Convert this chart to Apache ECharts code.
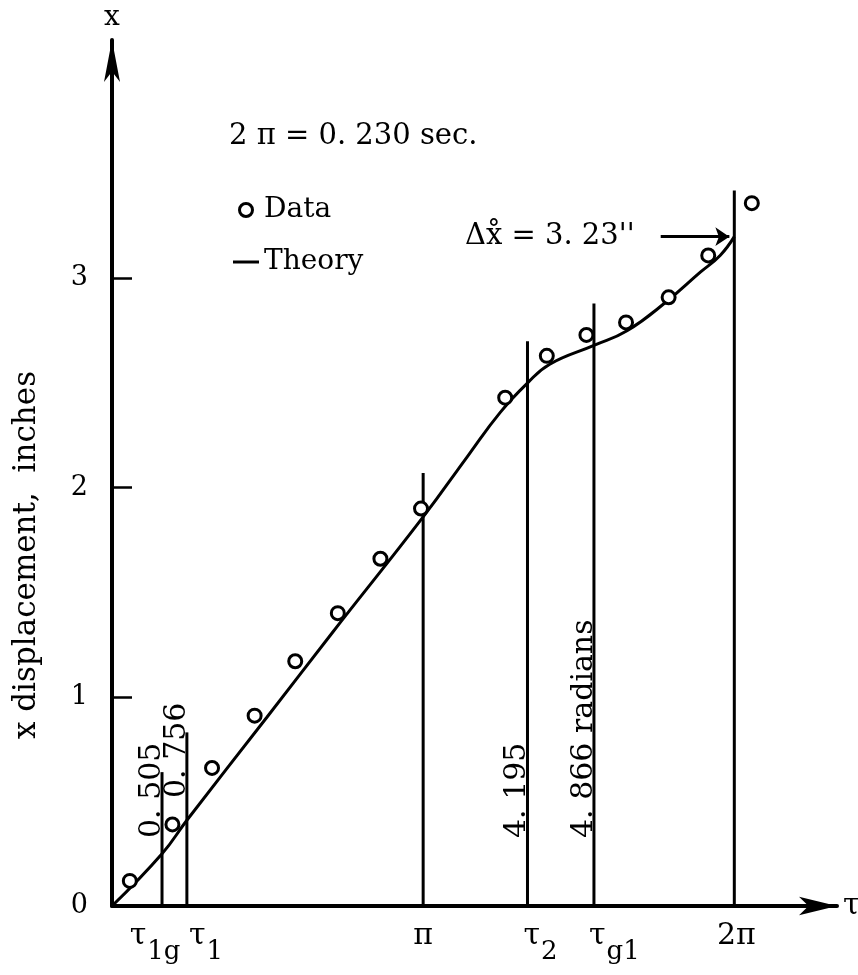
<!DOCTYPE html>
<html>
<head>
<meta charset="utf-8">
<script src="https://cdn.jsdelivr.net/npm/echarts@6/dist/echarts.min.js"></script>
<style>
  html, body { margin: 0; padding: 0; background: #fff; }
  #main { width: 858px; height: 975px; }
</style>
</head>
<body>
<div id="main"></div>
<script>
// measured points (tau in radians, x in inches)
const dataTau = [0.18, 0.61, 1.01, 1.44, 1.85, 2.28, 2.71, 3.12, 3.97, 4.39, 4.79, 5.19, 5.62, 6.02, 6.46];
const dataX   = [0.12, 0.39, 0.66, 0.91, 1.17, 1.40, 1.66, 1.90, 2.43, 2.63, 2.73, 2.79, 2.91, 3.11, 3.36];

// theory curve
const theoryTau = [0, 0.505, 0.756, 1.56, 2.23, Math.PI, 3.59, 3.92, 4.195, 4.42, 4.866, 5.2, 5.6, 5.94, 6.14, 2 * Math.PI];
const theoryX   = [0, 0.25, 0.41, 0.90, 1.31, 1.86, 2.15, 2.36, 2.50, 2.59, 2.68, 2.75, 2.89, 3.03, 3.11, 3.20];

// vertical reference lines
const lineTau   = [0.505, 0.756, Math.PI, 4.195, 4.866, 2 * Math.PI];
const lineTop   = [0.64, 0.83, 2.07, 2.70, 2.88, 3.42];
const lineLabel = ['0. 505', '0. 756', '', '4. 195', '4. 866 radians', ''];

// labels under the axis at each line (rich text)
const tickLabels = ['{m|τ}{s|1g}', '{m|τ}{s|1}', '{m|π}', '{m|τ}{s|2}', '{m|τ}{s|g1}', '{m|2π}'];

const yTickValues = [0, 1, 2, 3];

const deltaLabel = 'Δx\u030A = 3. 23\'\'';
const periodLabel = '2 π = 0. 230 sec.';

// label placement (style only, pixels)
const labelLift = [68, 108, 0, 68, 68, 0];
const tickAlign = ['center', 'left', 'center', 'left', 'left', 'center'];
const tickShift = [-7, 2, 0, -4, -5, 2];

const serif = 'DejaVu Serif';
const ink = '#000';

const chart = echarts.init(document.getElementById('main'));

const option = {
  backgroundColor: '#fff',
  animation: false,
  grid: { left: 112, right: 21, top: 40, bottom: 69, containLabel: false, outerBoundsMode: 'none' },
  legend: {
    orient: 'vertical',
    left: 228,
    top: 190,
    itemWidth: 26,
    itemHeight: 13,
    itemGap: 22,
    textStyle: { fontFamily: serif, fontSize: 28, color: ink, lineHeight: 30 },
    data: [
      { name: 'Data', icon: 'circle', itemStyle: { color: '#fff', borderColor: ink, borderWidth: 3, opacity: 1 } },
      { name: 'Theory', icon: 'path://M0,0L26,0L26,3L0,3Z', itemStyle: { color: ink } }
    ]
  },
  xAxis: {
    type: 'value',
    min: 0,
    max: 7.32,
    name: 'τ',
    nameLocation: 'end',
    nameGap: 6,
    nameTextStyle: { fontFamily: serif, fontSize: 30, color: ink },
    splitLine: { show: false },
    axisTick: { show: false },
    axisLabel: { show: false },
    axisLine: {
      symbol: ['none', 'arrow'],
      symbolSize: [14, 38],
      lineStyle: { color: ink, width: 4 }
    }
  },
  yAxis: {
    type: 'value',
    min: 0,
    max: 4.14,
    interval: 1,
    name: 'x',
    nameLocation: 'end',
    nameGap: 8,
    nameTextStyle: { fontFamily: serif, fontSize: 28, color: ink, verticalAlign: 'bottom' },
    splitLine: { show: false },
    axisLine: {
      symbol: ['none', 'arrow'],
      symbolSize: [12, 42],
      lineStyle: { color: ink, width: 4 }
    },
    axisTick: {
      inside: true,
      length: 20,
      customValues: [1, 2, 3],
      lineStyle: { color: ink, width: 2.5 }
    },
    axisLabel: {
      customValues: yTickValues,
      margin: 24,
      fontFamily: serif,
      fontSize: 27,
      color: ink
    }
  },
  graphic: [
    {
      type: 'text',
      x: 42,
      y: 555,
      rotation: Math.PI / 2,
      style: {
        text: 'x displacement,  inches',
        fontFamily: serif,
        fontSize: 31,
        fill: ink,
        align: 'center',
        verticalAlign: 'bottom'
      }
    },
    {
      type: 'text',
      x: 229,
      y: 136,
      style: {
        text: periodLabel,
        fontFamily: serif,
        fontSize: 29,
        fill: ink,
        align: 'left',
        verticalAlign: 'middle'
      }
    }
  ],
  series: [
    {
      name: 'Theory',
      type: 'line',
      data: theoryTau.map((t, i) => [t, theoryX[i]]),
      smooth: 0.45,
      symbol: 'none',
      color: ink,
      lineStyle: { color: ink, width: 3 },
      z: 3,
      markLine: {
        silent: true,
        symbol: ['none', 'arrow'],
        symbolSize: 14,
        lineStyle: { color: ink, width: 3, type: 'solid' },
        label: {
          show: true,
          position: 'start',
          distance: 26,
          formatter: deltaLabel,
          fontFamily: serif,
          fontSize: 29,
          color: ink
        },
        data: [[
          { coord: [5.54, theoryX[theoryX.length - 1]] },
          { coord: [theoryTau[theoryTau.length - 1] - 0.05, theoryX[theoryX.length - 1]] }
        ]]
      }
    },
    {
      name: 'Data',
      type: 'scatter',
      data: dataTau.map((t, i) => [t, dataX[i]]),
      symbol: 'circle',
      symbolSize: 13,
      itemStyle: { color: '#fff', borderColor: ink, borderWidth: 3, opacity: 1 },
      z: 5
    },
    {
      name: 'lines',
      type: 'custom',
      data: lineTau.map((t, i) => [t, lineTop[i]]),
      encode: { x: 0, y: 1 },
      z: 2,
      clip: false,
      renderItem: (params, api) => {
        const i = params.dataIndex;
        const p0 = api.coord([api.value(0), 0]);
        const p1 = api.coord([api.value(0), api.value(1)]);
        const children = [{
          type: 'line',
          shape: { x1: p0[0], y1: p0[1], x2: p1[0], y2: p1[1] },
          style: { stroke: ink, lineWidth: 3 }
        }, {
          type: 'text',
          x: p0[0] + tickShift[i],
          y: p0[1] + 15,
          style: {
            text: tickLabels[i],
            align: tickAlign[i],
            verticalAlign: 'top',
            fill: ink,
            rich: {
              m: { fontFamily: serif, fontSize: 30, lineHeight: 28, verticalAlign: 'top', fill: ink },
              s: { fontFamily: serif, fontSize: 26, verticalAlign: 'top', fill: ink, padding: [18, 0, 0, 1] }
            }
          }
        }];
        if (lineLabel[i]) {
          children.push({
            type: 'text',
            x: p0[0] + 5,
            y: p0[1] - labelLift[i],
            rotation: Math.PI / 2,
            style: {
              text: lineLabel[i],
              fontFamily: serif,
              fontSize: 30,
              fill: ink,
              align: 'left',
              verticalAlign: 'bottom'
            }
          });
        }
        return { type: 'group', children: children };
      }
    }
  ]
};

chart.setOption(option);
</script>
</body>
</html>
